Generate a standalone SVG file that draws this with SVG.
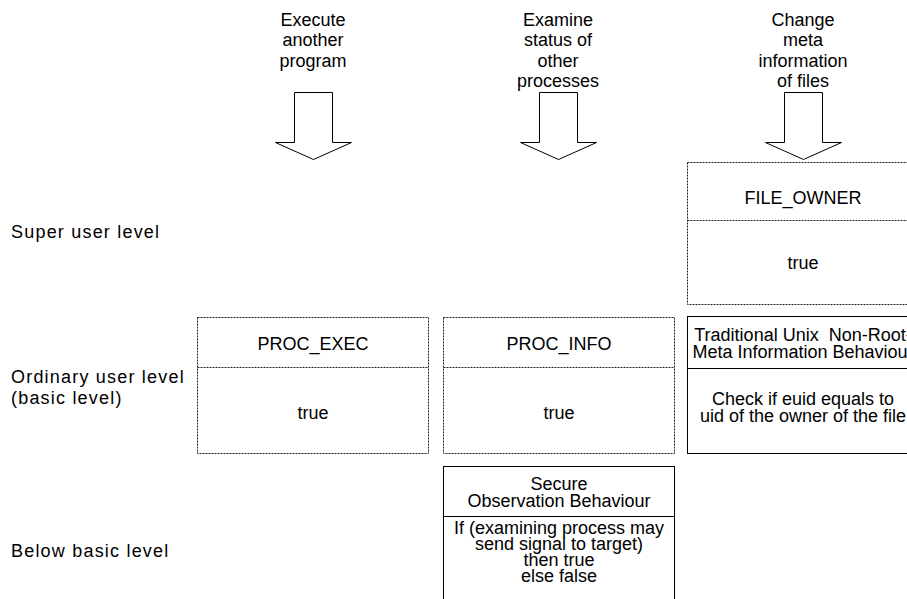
<svg xmlns="http://www.w3.org/2000/svg" width="907" height="599" viewBox="0 0 907 599">
  <style>
    text { font-family: "Liberation Sans", Arial, sans-serif; font-size: 18px; fill: #000; }
    .lvl { font-size: 18px; letter-spacing: 1.2px; }
    .c { text-anchor: middle; }
    .pre { white-space: pre; }
    .dot { fill: none; stroke: #222; stroke-width: 1; stroke-dasharray: 2 1; }
    .solid { fill: none; stroke: #000; stroke-width: 1; }
    .arrow { fill: #fff; stroke: #000; stroke-width: 1; stroke-linejoin: miter; }
  </style>
  <rect width="907" height="599" fill="#fff"/>

  <!-- privilege level labels -->
  <g id="levels">
    <text class="lvl" x="11" y="238">Super user level</text>
    <text class="lvl" x="11" y="383">Ordinary user level</text>
    <text class="lvl" x="11" y="404">(basic level)</text>
    <text class="lvl" x="11" y="557">Below basic level</text>
  </g>

  <!-- operation headings -->
  <g id="op-exec">
    <text class="c" x="313" y="26">Execute</text>
    <text class="c" x="313" y="46">another</text>
    <text class="c" x="313" y="67">program</text>
  </g>
  <g id="op-info">
    <text class="c" x="558" y="26">Examine</text>
    <text class="c" x="558" y="46">status of</text>
    <text class="c" x="558" y="67">other</text>
    <text class="c" x="558" y="87">processes</text>
  </g>
  <g id="op-meta">
    <text class="c" x="803" y="26">Change</text>
    <text class="c" x="803" y="46">meta</text>
    <text class="c" x="803" y="67">information</text>
    <text class="c" x="803" y="87">of files</text>
  </g>

  <!-- block arrows from each operation down to its behaviours -->
  <g id="connectors">
    <polygon class="arrow" points="294.5,92.5 332.5,92.5 332.5,142.5 351.5,142.5 313.5,159.5 275.5,142.5 294.5,142.5"/>
    <polygon class="arrow" points="539.5,92.5 577.5,92.5 577.5,142.5 596.5,142.5 558.5,159.5 520.5,142.5 539.5,142.5"/>
    <polygon class="arrow" points="784.5,92.5 822.5,92.5 822.5,142.5 841.5,142.5 803.5,159.5 765.5,142.5 784.5,142.5"/>
  </g>

  <!-- behaviour boxes -->
  <g id="file-owner">
    <rect class="dot" x="687.5" y="162.5" width="231" height="142"/>
    <line class="dot" x1="687.5" y1="220.5" x2="918.5" y2="220.5"/>
    <text class="c" x="803" y="204">FILE_OWNER</text>
    <text class="c" x="803" y="269">true</text>
  </g>

  <g id="unix-meta">
    <rect class="solid" x="687.5" y="316.5" width="231" height="137"/>
    <line class="solid" x1="687.5" y1="368.5" x2="918.5" y2="368.5"/>
    <text class="c pre" x="803" y="341">Traditional Unix  Non-Root-</text>
    <text class="c" x="803" y="358">Meta Information Behaviour</text>
    <text class="c" x="803" y="405">Check if euid equals to</text>
    <text class="c" x="803" y="422">uid of the owner of the file</text>
  </g>

  <g id="proc-exec">
    <rect class="dot" x="197.5" y="317.5" width="231" height="136"/>
    <line class="dot" x1="197.5" y1="367.5" x2="428.5" y2="367.5"/>
    <text class="c" x="313" y="350">PROC_EXEC</text>
    <text class="c" x="313" y="419">true</text>
  </g>

  <g id="proc-info">
    <rect class="dot" x="443.5" y="317.5" width="231" height="136"/>
    <line class="dot" x1="443.5" y1="367.5" x2="674.5" y2="367.5"/>
    <text class="c" x="559" y="350">PROC_INFO</text>
    <text class="c" x="559" y="419">true</text>
  </g>

  <g id="secure-observation">
    <rect class="solid" x="443.5" y="466.5" width="231" height="140"/>
    <line class="solid" x1="443.5" y1="516.5" x2="674.5" y2="516.5"/>
    <text class="c" x="559" y="490">Secure</text>
    <text class="c" x="559" y="507">Observation Behaviour</text>
    <text class="c" x="559" y="534">If (examining process may</text>
    <text class="c" x="559" y="550">send signal to target)</text>
    <text class="c" x="559" y="566">then true</text>
    <text class="c" x="559" y="582">else false</text>
  </g>
</svg>
